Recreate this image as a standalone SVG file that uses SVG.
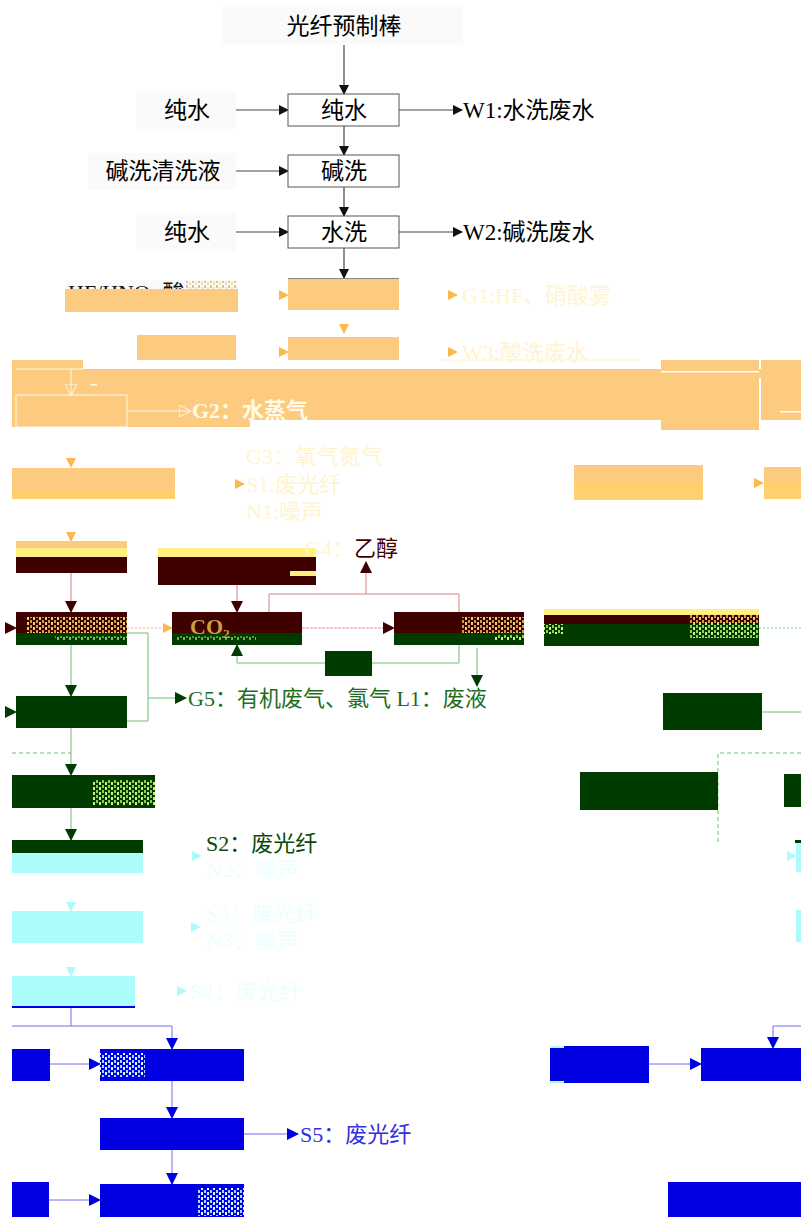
<svg xmlns="http://www.w3.org/2000/svg" width="801" height="1217" viewBox="0 0 801 1217">
<style>
text{font-family:"Liberation Serif","Noto Sans CJK SC",serif;font-size:22px}
.t{font-size:23px}
.c{text-anchor:middle}
.box{fill:#fff;stroke:#555;stroke-width:1}
.lbl{fill:#fafafa}
.bl{stroke:#444;stroke-width:1.2;fill:none}
.or{fill:#fdcb80}
.yl{fill:#ffd070}
.ly{fill:#fff080}
.mr{fill:#3f0000}
.gr{fill:#003c00}
.cy{fill:#adfcfc}
.bu{fill:#0000e0}
.fo{fill:#fff4d0}
.fc{fill:#ecffff}
</style>
<defs>
<marker id="ab" markerWidth="10" markerHeight="10" refX="9" refY="5" orient="auto" markerUnits="userSpaceOnUse"><path d="M0,0L10,5L0,10z" fill="#111"/></marker>
<marker id="ao" markerWidth="10" markerHeight="10" refX="9" refY="5" orient="auto" markerUnits="userSpaceOnUse"><path d="M0,0L10,5L0,10z" fill="#fcb84e"/></marker>
<marker id="am" markerWidth="12" markerHeight="12" refX="11" refY="6" orient="auto" markerUnits="userSpaceOnUse"><path d="M0,0L12,6L0,12z" fill="#3f0000"/></marker>
<marker id="ag" markerWidth="12" markerHeight="12" refX="11" refY="6" orient="auto" markerUnits="userSpaceOnUse"><path d="M0,0L12,6L0,12z" fill="#003c00"/></marker>
<marker id="ac" markerWidth="10" markerHeight="10" refX="9" refY="5" orient="auto" markerUnits="userSpaceOnUse"><path d="M0,0L10,5L0,10z" fill="#adfcfc"/></marker>
<marker id="au" markerWidth="12" markerHeight="12" refX="11" refY="6" orient="auto" markerUnits="userSpaceOnUse"><path d="M0,0L12,6L0,12z" fill="#0000e0"/></marker>
<marker id="aw" markerWidth="12" markerHeight="12" refX="11" refY="6" orient="auto" markerUnits="userSpaceOnUse"><path d="M0,0L12,6L0,12z" fill="none" stroke="#fff8e8"/></marker>
<pattern id="gy" width="6" height="5" patternUnits="userSpaceOnUse"><rect width="2" height="3" fill="#c8a040"/><rect x="3" y="2" width="2" height="3" fill="#e8d070"/></pattern>
<pattern id="gg" width="6" height="5" patternUnits="userSpaceOnUse"><rect width="2" height="3" fill="#90d050"/><rect x="3" y="2" width="2" height="3" fill="#d0f080"/></pattern>
<pattern id="gc" width="6" height="5" patternUnits="userSpaceOnUse"><rect width="2" height="3" fill="#a0e0ff"/><rect x="3" y="2" width="2" height="3" fill="#e0f8ff"/></pattern>
</defs>
<rect width="801" height="1217" fill="#fff"/>

<g id="orange-band">
<rect class="or" x="12" y="360" width="71" height="10"/>
<rect class="or" x="12" y="369" width="789" height="51"/>
<rect class="or" x="12" y="418" width="238" height="9"/>
<rect class="or" x="661" y="360" width="98" height="70"/>
<rect class="or" x="761" y="360" width="40" height="60"/>
<rect x="661" y="371" width="98" height="1.5" fill="#fff"/>
<rect x="780" y="411" width="21" height="1.5" fill="#fff"/>
<rect x="759" y="378" width="2" height="42" fill="#fff"/>
</g>

<g id="connectors">
<path class="bl" d="M344,45V94" marker-end="url(#ab)"/>
<path class="bl" d="M236,110H288" marker-end="url(#ab)"/>
<path class="bl" d="M399,110H462" marker-end="url(#ab)"/>
<path class="bl" d="M344,126V155" marker-end="url(#ab)"/>
<path class="bl" d="M236,171H288" marker-end="url(#ab)"/>
<path class="bl" d="M344,187V216" marker-end="url(#ab)"/>
<path class="bl" d="M236,232H288" marker-end="url(#ab)"/>
<path class="bl" d="M399,232H462" marker-end="url(#ab)"/>
<path class="bl" d="M344,248V278" marker-end="url(#ab)"/>
<path d="M270,295H288" stroke="none" fill="none" marker-end="url(#ao)"/>
<path d="M430,295H457" stroke="none" fill="none" marker-end="url(#ao)"/>
<path d="M344,318V333" stroke="none" fill="none" marker-end="url(#ao)"/>
<path d="M270,352H288" stroke="none" fill="none" marker-end="url(#ao)"/>
<path d="M430,352H457" stroke="none" fill="none" marker-end="url(#ao)"/>
<path d="M16,369H83M71,369V395" stroke="#fff8e8" fill="none" marker-end="url(#aw)"/>
<path d="M127,411H190" stroke="#fff8e8" fill="none" marker-end="url(#aw)"/>
<path d="M71,450V467" stroke="none" fill="none" marker-end="url(#ao)"/>
<path d="M225,484H244" stroke="none" fill="none" marker-end="url(#ao)"/>
<path d="M745,483H763" stroke="none" fill="none" marker-end="url(#ao)"/>
<path d="M71,525V541" stroke="none" fill="none" marker-end="url(#ao)"/>
<path d="M71,573V612" stroke="#d88080" fill="none" marker-end="url(#am)"/>
<path d="M237,585V612" stroke="#d88080" fill="none" marker-end="url(#am)"/>
<path d="M269,612V594H459V612" stroke="#d88080" fill="none"/>
<path d="M366,594V562" stroke="#d88080" fill="none" marker-end="url(#am)"/>
<path d="M127,628H172" stroke="#f0b070" stroke-dasharray="2 2" fill="none" marker-end="url(#ao)"/>
<path d="M302,628H394" stroke="#e89090" stroke-dasharray="3 1" fill="none" marker-end="url(#am)"/>
<path d="M759,628H801" stroke="#80d080" stroke-dasharray="2 2" fill="none"/>
<path d="M0,628H16" stroke="none" fill="none" marker-end="url(#am)"/>
<path d="M71,645V696" stroke="#70c070" fill="none" marker-end="url(#ag)"/>
<path d="M127,721H148V633H127M148,698H186" stroke="#70c070" fill="none" marker-end="url(#ag)"/>
<path d="M459,645V663H372M325,663H237V645" stroke="#70c070" fill="none" marker-end="url(#ag)"/>
<path d="M477,648V686" stroke="#70c070" fill="none" marker-end="url(#ag)"/>
<path d="M0,712H16" stroke="none" fill="none" marker-end="url(#ag)"/>
<path d="M762,712H801" stroke="#70c070" fill="none"/>
<path d="M12,753H71" stroke="#70c070" stroke-dasharray="4 3" fill="none"/>
<path d="M71,728V775" stroke="#70c070" fill="none" marker-end="url(#ag)"/>
<path d="M718,842V753H801" stroke="#70c070" stroke-dasharray="4 3" fill="none"/>
<path d="M71,808V840" stroke="#70c070" fill="none" marker-end="url(#ag)"/>
<path d="M185,856H201" stroke="none" fill="none" marker-end="url(#ac)"/>
<path d="M780,856H796" stroke="none" fill="none" marker-end="url(#ac)"/>
<path d="M71,895V911" stroke="none" fill="none" marker-end="url(#ac)"/>
<path d="M184,927H200" stroke="none" fill="none" marker-end="url(#ac)"/>
<path d="M71,960V976" stroke="none" fill="none" marker-end="url(#ac)"/>
<path d="M170,991H186" stroke="none" fill="none" marker-end="url(#ac)"/>
<path d="M71,1006V1026H12M71,1026H172V1049" stroke="#7070f0" fill="none" marker-end="url(#au)"/>
<path d="M50,1064H100" stroke="#7070f0" fill="none" marker-end="url(#au)"/>
<path d="M172,1081V1118" stroke="#7070f0" fill="none" marker-end="url(#au)"/>
<path d="M244,1134H298" stroke="#7070f0" fill="none" marker-end="url(#au)"/>
<path d="M172,1150V1184" stroke="#7070f0" fill="none" marker-end="url(#au)"/>
<path d="M49,1200H100" stroke="#7070f0" fill="none" marker-end="url(#au)"/>
<path d="M649,1064H701" stroke="#7070f0" fill="none" marker-end="url(#au)"/>
<path d="M801,1026H773V1048" stroke="#7070f0" fill="none" marker-end="url(#au)"/>
</g>

<g id="n-preform"><rect class="lbl" x="222" y="5" width="241" height="39"/><text class="c t" x="344" y="34">光纤预制棒</text></g>
<g id="n-water-in1"><rect class="lbl" x="136" y="91" width="100" height="38"/><text class="c t" x="187" y="118">纯水</text></g>
<g id="n-wash1"><rect class="box" x="288" y="94" width="111" height="32"/><text class="c t" x="344" y="118">纯水</text></g>
<g id="n-w1"><text class="t" x="463" y="118">W1:水洗废水</text></g>
<g id="n-alkali-in"><rect class="lbl" x="88" y="153" width="148" height="37"/><text class="c t" x="163" y="179">碱洗清洗液</text></g>
<g id="n-alkali"><rect class="box" x="288" y="155" width="111" height="32"/><text class="c t" x="344" y="179">碱洗</text></g>
<g id="n-water-in2"><rect class="lbl" x="136" y="213" width="100" height="38"/><text class="c t" x="187" y="240">纯水</text></g>
<g id="n-wash2"><rect class="box" x="288" y="216" width="111" height="32"/><text class="c t" x="344" y="240">水洗</text></g>
<g id="n-w2"><text class="t" x="463" y="240">W2:碱洗废水</text></g>

<g id="n-acid-in"><rect fill="#fafafa" x="65" y="280" width="173" height="10"/><text x="68" y="300" fill="#111">HF/HNO<tspan font-size="14" dy="4">3</tspan><tspan dy="-4"> 酸</tspan></text><rect class="or" x="65" y="289" width="173" height="23"/><rect fill="url(#gy)" x="186" y="281" width="50" height="8" opacity="0.6"/></g>
<g id="n-acidwash"><rect class="or" x="288" y="278" width="111" height="32"/><rect x="288" y="278" width="111" height="1" fill="#888"/></g>
<g id="n-g1"><text class="fo" x="462" y="303" font-size="21">G1:HF、硝酸雾</text></g>
<g id="n-water-in3"><rect class="or" x="137" y="335" width="99" height="25"/></g>
<g id="n-wash3"><rect class="or" x="288" y="337" width="111" height="23"/></g>
<g id="n-w3"><text class="fo" x="462" y="360" font-size="21">W3:酸洗废水</text><rect x="440" y="359" width="200" height="2" fill="#fff8e0"/></g>
<g id="n-dry"><rect x="16" y="395" width="111" height="32" fill="none" stroke="#fff8e8"/><rect x="90" y="384" width="7" height="1.5" fill="#fff8e8"/></g>
<g id="n-g2"><text x="192" y="418" fill="#fffbe8" font-weight="bold" font-size="20">G2：水蒸气</text></g>
<g id="n-draw"><rect class="or" x="12" y="468" width="163" height="22"/><rect class="yl" x="12" y="490" width="163" height="9"/></g>
<g id="n-g3s1n1"><text class="fo" x="246" y="464" font-size="21">G3：氧气氮气</text><text class="fo" x="246" y="492" font-size="21">S1:废光纤</text><text class="fo" x="246" y="519" font-size="21">N1:噪声</text></g>
<g id="n-right-o1"><rect class="or" x="574" y="465" width="129" height="16"/><rect class="yl" x="574" y="481" width="129" height="19"/></g>
<g id="n-right-o2"><rect class="or" x="764" y="467" width="37" height="14"/><rect class="yl" x="764" y="481" width="37" height="18"/></g>

<g id="n-m1"><rect class="or" x="16" y="541" width="111" height="7"/><rect class="ly" x="16" y="548" width="111" height="9"/><rect class="mr" x="16" y="557" width="111" height="16"/></g>
<g id="n-m2"><rect class="ly" x="158" y="548" width="158" height="9"/><rect class="mr" x="158" y="557" width="158" height="28"/><rect class="ly" x="290" y="571" width="26" height="5"/></g>
<g id="n-g4"><text x="305" y="556" class="fo" font-size="21">G4：<tspan fill="#3f0000">乙醇</tspan></text></g>
<g id="n-coat"><rect class="mr" x="16" y="612" width="111" height="21"/><rect class="gr" x="16" y="633" width="111" height="12"/><rect fill="url(#gy)" x="27" y="617" width="100" height="16"/><rect fill="url(#gg)" x="55" y="636" width="72" height="4" opacity="0.7"/></g>
<g id="n-co2"><rect class="mr" x="172" y="612" width="130" height="21"/><rect class="gr" x="172" y="633" width="130" height="12"/><text x="190" y="634" fill="#c8a040" font-size="18" font-weight="bold">CO₂</text><rect fill="url(#gg)" x="176" y="636" width="80" height="4" opacity="0.6"/></g>
<g id="n-m3"><rect class="mr" x="394" y="612" width="130" height="21"/><rect class="gr" x="394" y="633" width="130" height="12"/><rect fill="url(#gy)" x="462" y="617" width="62" height="16"/><rect fill="url(#gg)" x="495" y="635" width="29" height="5"/></g>
<g id="n-m4"><rect class="ly" x="544" y="609" width="215" height="6"/><rect class="mr" x="544" y="615" width="215" height="9"/><rect class="gr" x="544" y="624" width="215" height="22"/><rect fill="url(#gy)" x="690" y="614" width="69" height="10"/><rect fill="url(#gg)" x="690" y="624" width="69" height="14"/><rect fill="url(#gg)" x="544" y="624" width="20" height="10"/></g>

<g id="n-g-small"><rect class="gr" x="325" y="651" width="47" height="25"/></g>
<g id="n-g-box1"><rect class="gr" x="16" y="696" width="111" height="32"/></g>
<g id="n-g5l1"><text x="188" y="706" fill="#1e6e1e">G5：有机废气、氯气 L1：废液</text></g>
<g id="n-g-right1"><rect class="gr" x="663" y="693" width="99" height="37"/></g>
<g id="n-g-box2"><rect class="gr" x="12" y="775" width="143" height="33"/><rect fill="url(#gg)" x="93" y="780" width="62" height="25"/></g>
<g id="n-g-right2"><rect class="gr" x="580" y="772" width="138" height="38"/></g>
<g id="n-g-right3"><rect class="gr" x="784" y="774" width="17" height="33"/></g>

<g id="n-c1"><rect class="gr" x="12" y="840" width="131" height="13"/><rect class="cy" x="12" y="853" width="131" height="20"/></g>
<g id="n-s2n2"><text x="206" y="851" fill="#0a4a0a">S2：废光纤</text><text class="fc" x="206" y="877">N2：噪声</text></g>
<g id="n-c-right1"><rect class="gr" x="795" y="840" width="6" height="3"/><rect class="cy" x="796" y="843" width="5" height="29"/></g>
<g id="n-c2"><rect class="cy" x="12" y="911" width="131" height="32"/></g>
<g id="n-s3n3"><text class="fc" x="206" y="921">S3：废光纤</text><text class="fc" x="206" y="948">N3：噪声</text></g>
<g id="n-c-right2"><rect class="cy" x="796" y="910" width="5" height="32"/></g>
<g id="n-c3"><rect class="cy" x="12" y="976" width="123" height="30"/><rect class="bu" x="12" y="1006" width="123" height="2"/></g>
<g id="n-s4"><text class="fc" x="190" y="999">S4：废光纤</text></g>

<g id="n-b-in1"><rect class="bu" x="12" y="1049" width="38" height="32"/></g>
<g id="n-b1"><rect class="bu" x="100" y="1049" width="144" height="32"/><rect fill="url(#gc)" x="100" y="1053" width="45" height="24"/></g>
<g id="n-b2"><rect class="bu" x="100" y="1118" width="144" height="32"/></g>
<g id="n-s5"><text x="300" y="1142" fill="#3030e0">S5：废光纤</text></g>
<g id="n-b-in2"><rect class="bu" x="12" y="1182" width="37" height="35"/></g>
<g id="n-b3"><rect class="bu" x="100" y="1184" width="144" height="33"/><rect fill="url(#gc)" x="198" y="1188" width="46" height="28"/></g>
<g id="n-b-right1"><rect class="bu" x="550" y="1046" width="99" height="37"/><rect fill="#adfcfc" x="550" y="1046" width="14" height="2"/><rect fill="#adfcfc" x="550" y="1081" width="14" height="2"/></g>
<g id="n-b-right2"><rect class="bu" x="701" y="1048" width="100" height="33"/></g>
<g id="n-b-right3"><rect class="bu" x="668" y="1182" width="133" height="35"/></g>
</svg>
